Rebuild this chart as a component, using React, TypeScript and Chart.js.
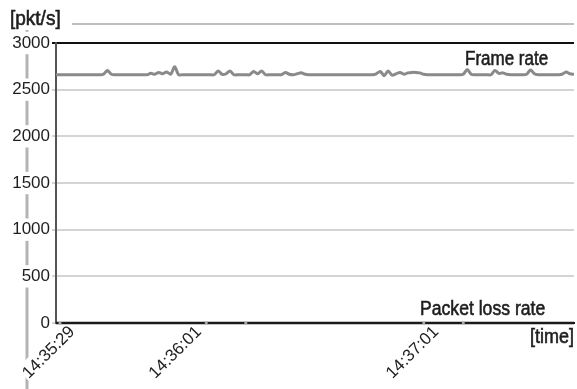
import React, { useEffect, useRef } from "react";
import { Chart, registerables } from "chart.js";

Chart.register(...registerables);

// seconds since 14:35:29 at which time labels are shown
const tickSeconds = [0, 32, 92];
const tickLabels = ["14:35:29", "14:36:01", "14:37:01"];

// frame rate [pkt/s], one sample per second from 14:35:29
const frameRate = [
  2660, 2660, 2660, 2660, 2660, 2660, 2660, 2660, 2660, 2660,
  2660, 2660, 2665, 2705, 2665, 2660, 2660, 2660, 2660, 2660,
  2660, 2660, 2660, 2660, 2675, 2665, 2685, 2670, 2690, 2665,
  2745, 2660, 2660, 2660, 2660, 2660, 2660, 2660, 2660, 2660,
  2660, 2700, 2665, 2670, 2700, 2660, 2660, 2660, 2660, 2660,
  2695, 2670, 2700, 2660, 2660, 2660, 2660, 2660, 2685, 2665,
  2660, 2670, 2680, 2665, 2660, 2660, 2660, 2660, 2660, 2660,
  2660, 2660, 2660, 2660, 2660, 2660, 2660, 2660, 2660, 2660,
  2660, 2670, 2695, 2650, 2700, 2655, 2670, 2685, 2665, 2680,
  2685, 2685, 2680, 2665, 2660, 2660, 2660, 2660, 2660, 2660,
  2660, 2660, 2660, 2665, 2715, 2665, 2660, 2660, 2660, 2660,
  2660, 2705, 2675, 2680, 2665, 2660, 2660, 2660, 2660, 2665,
  2710, 2670, 2660, 2660, 2660, 2660, 2660, 2660, 2665, 2690,
  2670, 2665,
];

// packet loss rate [pkt/s]
const lossRate = [
  0, 0, 0, 0, 0, 0, 0, 0, 0, 0, 0, 0, 0, 0, 0, 0, 0, 0, 0, 0,
  0, 0, 0, 0, 0, 0, 0, 0, 0, 0, 0, 0, 0, 0, 0, 0, 0, 0, 0, 0,
  0, 0, 0, 0, 0, 0, 0, 0, 0, 0, 0, 0, 0, 0, 0, 0, 0, 0, 0, 0,
  0, 0, 0, 0, 0, 0, 0, 0, 0, 0, 0, 0, 0, 0, 0, 0, 0, 0, 0, 0,
  0, 0, 0, 0, 0, 0, 0, 0, 0, 0, 0, 0, 0, 0, 0, 0, 0, 0, 0, 0,
  0, 0, 0, 0, 0, 0, 0, 0, 0, 0, 0, 0, 0, 0, 0, 0, 0, 0, 0, 0,
  0, 0, 0, 0, 0, 0, 0, 0, 0, 0, 0, 0,
];
// small markers visible on the loss line
const lossMarkers = [1, 38, 48, 93, 103];

const yTicks = [0, 500, 1000, 1500, 2000, 2500, 3000];

const FONT = "'Liberation Sans', Arial, sans-serif";

function condensedText(ctx: any, text: string, x: number, y: number, size: number, sx: number) {
  ctx.save();
  ctx.translate(x, y);
  ctx.scale(sx, 1);
  ctx.font = `${size}px ${FONT}`;
  ctx.lineWidth = 0.6;
  ctx.strokeStyle = ctx.fillStyle;
  ctx.fillText(text, 0, 0);
  ctx.strokeText(text, 0, 0);
  ctx.restore();
}

export default function App() {
  const ref = useRef<HTMLCanvasElement | null>(null);

  useEffect(() => {
    if (!ref.current) return;
    const extras = {
      id: "extras",
      beforeDraw(chart: any) {
        const ctx = chart.ctx;
        ctx.save();
        ctx.fillStyle = "#fff";
        ctx.fillRect(0, 0, chart.width, chart.height);
        ctx.strokeStyle = "#b4b4b4";
        ctx.lineWidth = 3;
        ctx.beginPath();
        ctx.moveTo(27, 30);
        ctx.lineTo(27, chart.height);
        ctx.stroke();
        ctx.lineWidth = 1.5;
        ctx.strokeStyle = "#aaa";
        ctx.beginPath();
        ctx.moveTo(72, 24);
        ctx.lineTo(chart.chartArea.right, 24);
        ctx.stroke();
        ctx.restore();
      },
      afterDraw(chart: any) {
        const ctx = chart.ctx;
        ctx.save();
        ctx.fillStyle = "#1e1e1e";
        ctx.textBaseline = "alphabetic";
        ctx.textAlign = "left";
        condensedText(ctx, "[pkt/s]", 10, 25, 20, 0.95);
        condensedText(ctx, "Frame rate", 465, 65, 20, 0.85);
        condensedText(ctx, "Packet loss rate", 420, 315, 20, 0.88);
        condensedText(ctx, "[time]", 530, 343, 20, 0.9);
        ctx.restore();
      },
    };

    const chart = new Chart(ref.current, {
      type: "line",
      data: {
        datasets: [
          {
            label: "Packet loss rate",
            data: lossRate.map((v, i) => ({ x: i, y: v })),
            borderColor: "#1a1a1a",
            borderWidth: 2.5,
            pointRadius: (c: any) => (lossMarkers.includes(c.dataIndex) ? 2 : 0),
            pointBackgroundColor: "#aaa",
            pointBorderWidth: 0,
            pointStyle: "rect",
            clip: false,
          },
          {
            label: "Frame rate",
            data: frameRate.map((v, i) => ({ x: i, y: v })),
            borderColor: "#8a8a8a",
            borderWidth: 3,
            pointRadius: 0,
            tension: 0.3,
          },
        ],
      },
      options: {
        animation: false,
        responsive: false,
        layout: { padding: { top: 43, right: 3, left: 0, bottom: 0 } },
        plugins: { legend: { display: false }, tooltip: { enabled: false } },
        scales: {
          x: {
            type: "linear",
            min: 0,
            max: frameRate.length - 1,
            afterBuildTicks: (s: any) => {
              s.ticks = tickSeconds.map((v) => ({ value: v }));
            },
            afterFit: (s: any) => {
              s.height = 66;
            },
            grid: { display: false },
            border: { display: true, color: "#111", width: 2 },
            ticks: {
              autoSkip: false,
              minRotation: 45,
              maxRotation: 45,
              padding: -9,
              labelOffset: 9,
              color: "#222",
              font: { family: FONT, size: 17 },
              showLabelBackdrop: true,
              backdropColor: "#fff",
              backdropPadding: 1,
              callback: (v: any) => {
                const i = tickSeconds.indexOf(Number(v));
                return i >= 0 ? tickLabels[i] : "";
              },
            },
          },
          y: {
            min: 0,
            max: 3000,
            afterBuildTicks: (s: any) => {
              s.ticks = yTicks.map((v) => ({ value: v }));
            },
            afterFit: (s: any) => {
              s.width = 56;
            },
            border: { display: true, color: "#555", width: 2 },
            grid: {
              color: (c: any) => (c.tick && c.tick.value === 3000 ? "#111" : "#d4d4d4"),
              lineWidth: 2,
              tickLength: 4,
            },
            ticks: {
              padding: 2,
              color: "#1e1e1e",
              font: { family: FONT, size: 17 },
              showLabelBackdrop: true,
              backdropColor: "#fff",
              backdropPadding: 1,
              callback: (v: any) => String(v),
            },
          },
        },
      },
      plugins: [extras],
    } as any);
    return () => chart.destroy();
  }, []);

  return (
    <div style={{ position: "absolute", left: 0, top: 0, width: 577, height: 389 }}>
      <canvas ref={ref} width={577} height={389} style={{ display: "block" }} />
    </div>
  );
}
